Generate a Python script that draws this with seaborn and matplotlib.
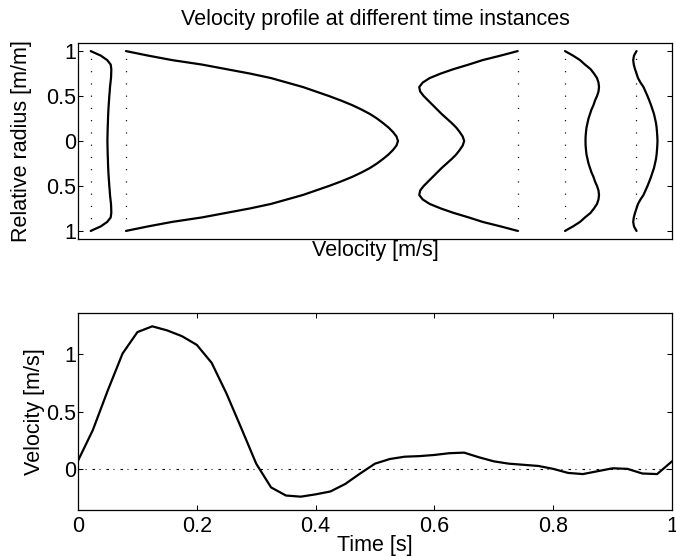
import numpy as np
import pandas as pd
import matplotlib
matplotlib.use("Agg")
import matplotlib.pyplot as plt
import seaborn as sns

# ---------------- data ----------------
# relative radius grid (wall to wall)
radius = [1, 0.95, 0.9, 0.85, 0.8, 0.75, 0.7, 0.65, 0.6, 0.55, 0.5, 0.45, 0.4, 0.35, 0.3, 0.25,
          0.2, 0.15, 0.1, 0.05, 0,
          -0.05, -0.1, -0.15, -0.2, -0.25, -0.3, -0.35, -0.4, -0.45, -0.5, -0.55, -0.6, -0.65,
          -0.7, -0.75, -0.8, -0.85, -0.9, -0.95, -1]

# baseline (offset) of each profile along the velocity axis
profile_offsets = [0.127, 0.48, 4.397, 4.87, 5.58]

# velocity profiles (relative to their baseline)
profile_1 = [0, 0.10, 0.165, 0.20, 0.206, 0.205, 0.203, 0.198, 0.193, 0.19, 0.186, 0.183, 0.18,
             0.177, 0.175, 0.173, 0.172, 0.170, 0.169, 0.168, 0.167,
             0.168, 0.169, 0.170, 0.172, 0.173, 0.175, 0.177, 0.18, 0.183, 0.186, 0.19, 0.193,
             0.198, 0.203, 0.205, 0.206, 0.20, 0.165, 0.10, 0]
profile_2 = [0, 0.22, 0.46, 0.76, 1.00, 1.24, 1.45, 1.61, 1.77, 1.90, 2.03, 2.15, 2.26, 2.355,
             2.44, 2.51, 2.57, 2.625, 2.67, 2.705, 2.72,
             2.705, 2.67, 2.625, 2.57, 2.51, 2.44, 2.355, 2.26, 2.15, 2.03, 1.90, 1.77, 1.61,
             1.45, 1.24, 1.00, 0.76, 0.46, 0.22, 0]
profile_3 = [0, -0.17, -0.35, -0.49, -0.64, -0.77, -0.88, -0.95, -0.985, -0.975, -0.94, -0.895,
             -0.85, -0.805, -0.76, -0.71, -0.66, -0.615, -0.58, -0.55, -0.535,
             -0.55, -0.58, -0.615, -0.66, -0.71, -0.76, -0.805, -0.85, -0.895, -0.94, -0.975,
             -0.985, -0.95, -0.88, -0.77, -0.64, -0.49, -0.35, -0.17, 0]
profile_4 = [0, 0.08, 0.15, 0.20, 0.255, 0.29, 0.32, 0.335, 0.34, 0.335, 0.32, 0.30, 0.285, 0.265,
             0.25, 0.235, 0.225, 0.215, 0.21, 0.206, 0.205,
             0.206, 0.21, 0.215, 0.225, 0.235, 0.25, 0.265, 0.285, 0.30, 0.32, 0.335, 0.34,
             0.335, 0.32, 0.29, 0.255, 0.20, 0.15, 0.08, 0]
profile_5 = [0.005, -0.02, -0.028, -0.022, -0.01, 0.005, 0.02, 0.045, 0.075, 0.095, 0.115, 0.133,
             0.15, 0.165, 0.18, 0.19, 0.20, 0.206, 0.21, 0.213, 0.215,
             0.213, 0.21, 0.206, 0.20, 0.19, 0.18, 0.165, 0.15, 0.133, 0.115, 0.095, 0.075,
             0.045, 0.02, 0.005, -0.01, -0.022, -0.028, -0.02, 0.005]

# mean velocity over one cycle
time = [0, 0.025, 0.05, 0.075, 0.1, 0.125, 0.15, 0.175, 0.2, 0.225, 0.25, 0.275, 0.3, 0.325,
        0.35, 0.375, 0.4, 0.425, 0.45, 0.475, 0.5, 0.525, 0.55, 0.575, 0.6, 0.625, 0.65, 0.675,
        0.7, 0.725, 0.75, 0.775, 0.8, 0.825, 0.85, 0.875, 0.9, 0.925, 0.95, 0.975, 1.0]
velocity = [0.075, 0.34, 0.68, 1.00, 1.185, 1.235, 1.20, 1.15, 1.075, 0.92, 0.655, 0.355, 0.05, -0.155,
            -0.225, -0.235, -0.215, -0.19, -0.125, -0.035, 0.05, 0.09, 0.11, 0.115, 0.125, 0.14, 0.145, 0.105,
            0.07, 0.05, 0.04, 0.03, 0.005, -0.03, -0.04, -0.015, 0.01, 0.005, -0.035, -0.04, 0.07]

radius_ticks = [1, 0.5, 0, -0.5, -1]
radius_ticklabels = ["1", "0.5", "0", "0.5", "1"]
time_ticks = [0, 0.2, 0.4, 0.6, 0.8, 1]
time_ticklabels = ["0", "0.2", "0.4", "0.6", "0.8", "1"]
vel_ticks = [0, 0.5, 1]
vel_ticklabels = ["0", "0.5", "1"]

# ---------------- style ----------------
sns.set_theme(style="white")
plt.rcParams["font.family"] = ["Liberation Sans", "DejaVu Sans"]
plt.rcParams["axes.edgecolor"] = "black"
plt.rcParams["text.color"] = "black"
plt.rcParams["axes.labelcolor"] = "black"
plt.rcParams["xtick.color"] = "black"
plt.rcParams["ytick.color"] = "black"

FS = 15.5
W, H = 676, 557
fig = plt.figure(figsize=(W / 100, H / 100), dpi=100)
ax1 = fig.add_axes([78 / W, 1 - 239 / H, 594 / W, 196 / H])
ax2 = fig.add_axes([78 / W, 1 - 510 / H, 594 / W, 197 / H])

# ---------------- top panel ----------------
profiles = [profile_1, profile_2, profile_3, profile_4, profile_5]
rows = []
for k, (off, prof) in enumerate(zip(profile_offsets, profiles)):
    for r, u in zip(radius, prof):
        rows.append({"profile": k, "x": off + u, "r": r})
df = pd.DataFrame(rows)

for off in profile_offsets:
    ax1.plot([off, off], [-1, 1], color="black", lw=0.9,
             linestyle=(0, (0.9, 8.9)))

sns.lineplot(data=df, x="x", y="r", units="profile", estimator=None, sort=False,
             color="black", lw=1.6, ax=ax1)

ax1.set_xlim(0, 5.94)
ax1.set_ylim(-1.09, 1.09)
ax1.set_xticks([])
ax1.set_yticks(radius_ticks)
ax1.set_yticklabels(radius_ticklabels)
ax1.tick_params(axis="y", direction="in", length=3.6, width=0.75, left=True, right=True,
                labelsize=FS, pad=1.5)
ax1.set_title("Velocity profile at different time instances", fontsize=FS, pad=13)
ax1.set_xlabel("Velocity [m/s]", fontsize=FS)
ax1.set_ylabel("Relative radius [m/m]", fontsize=FS)
ax1.yaxis.set_label_coords(-0.078, 0.5)
ax1.xaxis.set_label_coords(0.5, -0.006)

# ---------------- bottom panel ----------------
dfv = pd.DataFrame({"time": time, "velocity": velocity})
ax2.axhline(0, color="black", lw=0.8, linestyle=(0, (2.3, 4.0, 0.9, 5.4)))
sns.lineplot(data=dfv, x="time", y="velocity", color="black", lw=1.6, ax=ax2)
ax2.set_xlim(0, 1)
ax2.set_ylim(-0.35, 1.35)
ax2.set_xticks(time_ticks)
ax2.set_xticklabels(time_ticklabels)
ax2.set_yticks(vel_ticks)
ax2.set_yticklabels(vel_ticklabels)
ax2.tick_params(axis="x", direction="in", length=3.6, width=0.75, top=True, bottom=True,
                labelsize=FS, pad=4.5)
ax2.tick_params(axis="y", direction="in", length=3.6, width=0.75, left=True, right=True,
                labelsize=FS, pad=1.5)
ax2.set_xlabel("Time [s]", fontsize=FS, labelpad=-1.5)
ax2.set_ylabel("Velocity [m/s]", fontsize=FS)
ax2.yaxis.set_label_coords(-0.0557, 0.5)

for ax in (ax1, ax2):
    for s in ax.spines.values():
        s.set_visible(True)
        s.set_linewidth(0.9)
        s.set_color("black")

fig.savefig("out.png", dpi=100)
